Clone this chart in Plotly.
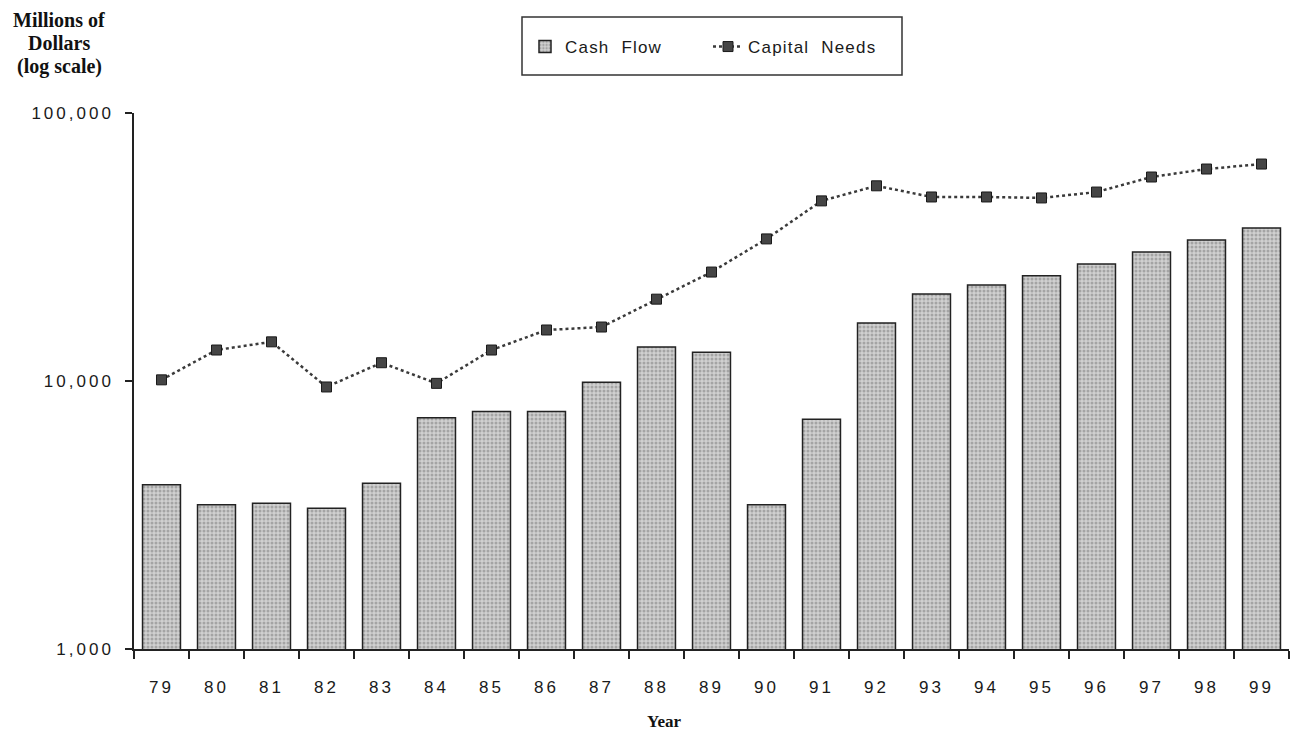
import plotly.graph_objects as go

years = ["79", "80", "81", "82", "83", "84", "85", "86", "87", "88", "89",
         "90", "91", "92", "93", "94", "95", "96", "97", "98", "99"]
cash_flow = [4100, 3450, 3500, 3350, 4150, 7300, 7700, 7700, 9900, 13400, 12800,
             3450, 7200, 16450, 21100, 22800, 24700, 27300, 30300, 33600, 37200]
capital_needs = [10100, 13050, 14000, 9500, 11700, 9800, 13050, 15500, 15900, 20200, 25500,
                 33900, 47000, 53500, 48600, 48600, 48200, 50700, 57700, 61800, 64500]
y_tickvals = [1000, 10000, 100000]
y_ticktext = ["1,000", "10,000", "100,000"]
y_title_lines = ["Millions of", "Dollars", "(log scale)"]

PL, PT, PW, PH = 134, 113, 1155, 536


def px_x(x):
    return (x - PL) / PW


def px_y(y):
    return (PT + PH - y) / PH


fig = go.Figure()
fig.add_trace(go.Bar(
    x=years, y=cash_flow, name="Cash Flow",
    marker=dict(color="#c6c6c6",
                line=dict(color="#222", width=1.5),
                pattern=dict(shape=".", fgcolor="#777", bgcolor="#d0d0d0", size=4, solidity=0.45)),
))
fig.add_trace(go.Scatter(
    x=years, y=capital_needs, name="Capital Needs", mode="lines+markers",
    line=dict(color="#3a3a3a", width=2.5, dash="dot"),
    marker=dict(symbol="square", size=10, color="#454545", line=dict(color="#1a1a1a", width=1)),
))

annotations = []
for i, line in enumerate(y_title_lines):
    annotations.append(dict(text="<b>" + line + "</b>", xref="paper", yref="paper",
                            x=px_x(59), y=px_y(20 + 23 * i), xanchor="center", yanchor="middle",
                            showarrow=False,
                            font=dict(family="Liberation Serif, Times New Roman, serif", size=20, color="#111")))
annotations.append(dict(text="<b>Year</b>", xref="paper", yref="paper",
                        x=px_x(664), y=px_y(721), xanchor="center", yanchor="middle",
                        showarrow=False,
                        font=dict(family="Liberation Serif, Times New Roman, serif", size=17, color="#111")))

fig.update_layout(
    width=1291, height=734,
    paper_bgcolor="white", plot_bgcolor="white",
    margin=dict(l=PL, r=2, t=PT, b=85, autoexpand=False),
    bargap=0.31,
    font=dict(family="Liberation Sans, Arial, sans-serif", color="#1a1a1a"),
    showlegend=True,
    legend=dict(orientation="h", x=px_x(525), y=px_y(47), xanchor="left", yanchor="middle",
                font=dict(size=17, family="Liberation Sans, Arial, sans-serif"),
                bgcolor="rgba(0,0,0,0)", borderwidth=0, entrywidth=138, itemwidth=30,
                traceorder="normal"),
    shapes=[dict(type="rect", xref="paper", yref="paper",
                 x0=px_x(522), x1=px_x(902), y0=px_y(75), y1=px_y(17),
                 line=dict(color="#333", width=1.5), fillcolor="rgba(0,0,0,0)")],
    annotations=annotations,
)
fig.update_xaxes(type="category", range=[-0.5, 20.5], showline=True, linecolor="#222", linewidth=1.5,
                 ticks="outside", tickson="boundaries", ticklen=8, tickwidth=1.5, tickcolor="#222",
                 ticklabelstandoff=22,
                 showgrid=False, tickfont=dict(size=17), zeroline=False)
fig.update_yaxes(type="log", range=[3, 5], showline=True, linecolor="#222", linewidth=1.5,
                 ticks="outside", ticklen=7, tickwidth=1.5, tickcolor="#222",
                 ticklabelstandoff=8,
                 tickvals=y_tickvals, ticktext=y_ticktext, showgrid=False,
                 tickfont=dict(size=17), zeroline=False)

post = """
document.body.style.margin = '0';
document.body.style.overflow = 'hidden';
var st = document.createElement('style');
st.innerHTML = '.xtick text, .ytick text {letter-spacing: 3px;} .legendtext {letter-spacing: 1.2px; word-spacing: 6px;} .modebar-container{display:none !important;}';
document.head.appendChild(st);
"""
fig.write_html("out.html", post_script=post, config={"displayModeBar": False})
